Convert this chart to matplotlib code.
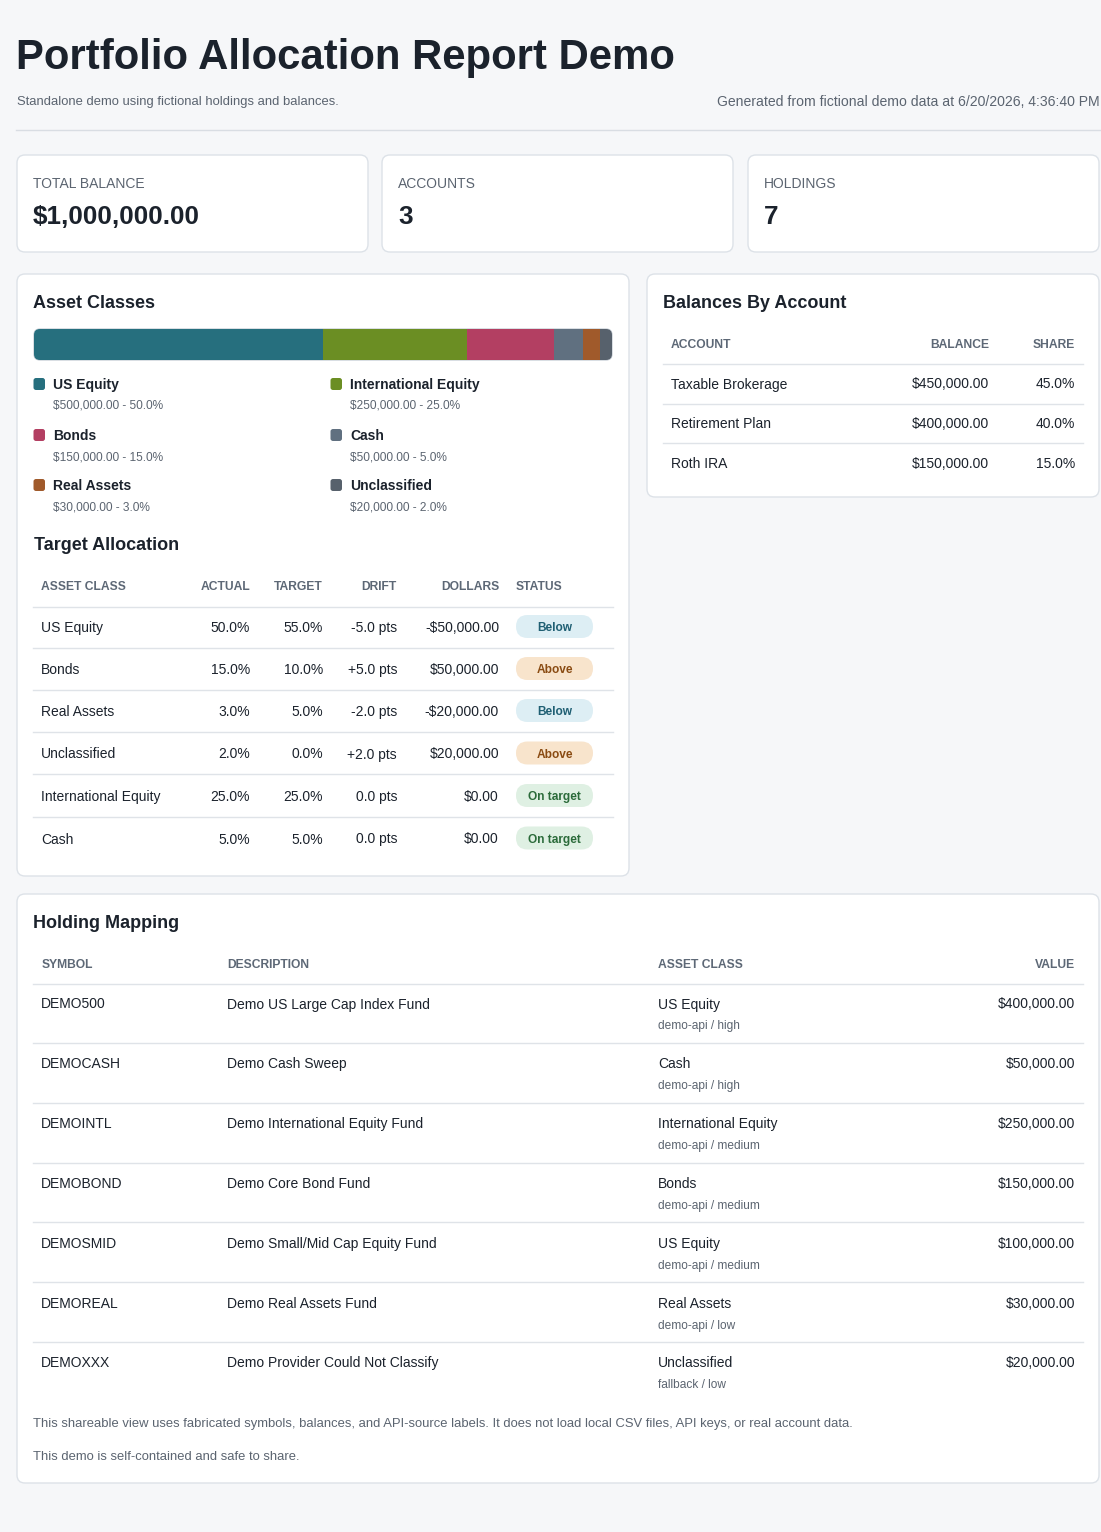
import matplotlib
matplotlib.use("Agg")
import matplotlib.pyplot as plt
from matplotlib.patches import FancyBboxPatch

plt.rcParams["font.family"] = ["Liberation Sans", "DejaVu Sans"]

# Данные отчёта
asset_names = ["US Equity", "International Equity", "Bonds", "Cash", "Real Assets", "Unclassified"]
asset_values = [500000, 250000, 150000, 50000, 30000, 20000]
asset_pcts = [50.0, 25.0, 15.0, 5.0, 3.0, 2.0]
asset_colors = ["#266f7e", "#6b8e23", "#b33f62", "#607080", "#a05a2b", "#57616c"]

target_classes = ["US Equity", "Bonds", "Real Assets", "Unclassified", "International Equity", "Cash"]
actual_pct = [50.0, 15.0, 3.0, 2.0, 25.0, 5.0]
target_pct = [55.0, 10.0, 5.0, 0.0, 25.0, 5.0]
drift_pts = [-5.0, 5.0, -2.0, 2.0, 0.0, 0.0]
drift_dollars = [-50000, 50000, -20000, 20000, 0, 0]
status = ["Below", "Above", "Below", "Above", "On target", "On target"]

account_names = ["Taxable Brokerage", "Retirement Plan", "Roth IRA"]
account_balances = [450000, 400000, 150000]
account_shares = [45.0, 40.0, 15.0]

holding_symbols = ["DEMO500", "DEMOCASH", "DEMOINTL", "DEMOBOND", "DEMOSMID", "DEMOREAL", "DEMOXXX"]
holding_desc = ["Demo US Large Cap Index Fund", "Demo Cash Sweep", "Demo International Equity Fund",
                "Demo Core Bond Fund", "Demo Small/Mid Cap Equity Fund", "Demo Real Assets Fund",
                "Demo Provider Could Not Classify"]
holding_classes = ["US Equity", "Cash", "International Equity", "Bonds", "US Equity", "Real Assets", "Unclassified"]
holding_sources = ["demo-api / high", "demo-api / high", "demo-api / medium", "demo-api / medium",
                   "demo-api / medium", "demo-api / low", "fallback / low"]
holding_values = [400000, 50000, 250000, 150000, 100000, 30000, 20000]

total_balance = 1000000
n_accounts = 3
n_holdings = 7

BG = "#f6f7f9"
BORDER = "#dde2e8"
DARK = "#1b222c"
GRAY = "#5b6470"
HEAD = "#5d6876"
LINE = "#dfe3e8"

badge_style = {
    "Below": ("#ddeef4", "#1f5f73"),
    "Above": ("#f8e4cc", "#8a4b12"),
    "On target": ("#dff0e3", "#2b6b3a"),
}


def money(v):
    s = f"${abs(v):,.2f}"
    return "-" + s if v < 0 else s


def card(ax, x0, y0, x1, y1):
    ax.add_patch(FancyBboxPatch((x0, y0), x1 - x0, y1 - y0,
                                boxstyle="round,pad=0,rounding_size=8",
                                fc="white", ec=BORDER, lw=1.0, zorder=1))


def hline(ax, y, x0, x1, color=LINE):
    ax.plot([x0, x1], [y, y], color=color, lw=1.0, zorder=2)


def txt(ax, x, y, s, size=10, color=DARK, weight="normal", ha="left"):
    # небольшой сдвиг вниз: va="center" учитывает выносные элементы
    ax.text(x, y + 1.5, s, fontsize=size, color=color, fontweight=weight,
            ha=ha, va="center", zorder=3)


W, H = 1101, 1532
fig = plt.figure(figsize=(W / 100, H / 100), dpi=100, facecolor=BG)
ax = fig.add_axes([0, 0, 1, 1])
ax.set_xlim(0, W)
ax.set_ylim(H, 0)
ax.axis("off")

# Заголовок
txt(ax, 16, 56.5, "Portfolio Allocation Report Demo", size=30.2, weight="bold")
txt(ax, 17, 101, "Standalone demo using fictional holdings and balances.", size=9.35, color=GRAY)
txt(ax, 1100, 101, "Generated from fictional demo data at 6/20/2026, 4:36:40 PM", size=10.1,
    color=GRAY, ha="right")
hline(ax, 129.5, 16, 1101, color="#d9dde3")

# Карточки со сводкой
stats = [("TOTAL BALANCE", money(total_balance)), ("ACCOUNTS", str(n_accounts)),
         ("HOLDINGS", str(n_holdings))]
for (label, value), x0 in zip(stats, [17, 382, 748]):
    card(ax, x0, 155, x0 + 351, 252)
    txt(ax, x0 + 16, 183, label, size=10, color=GRAY)
    txt(ax, x0 + 16, 216, value, size=18.8, weight="bold")

# Asset Classes
card(ax, 17, 274, 629, 876)
txt(ax, 33, 302, "Asset Classes", size=13, weight="bold")

bar_x0, bar_y0, bar_w, bar_h = 34, 329, 578, 31
frame = FancyBboxPatch((bar_x0, bar_y0), bar_w, bar_h,
                       boxstyle="round,pad=0,rounding_size=6",
                       fc="none", ec="#c9d0d8", lw=1.0, zorder=4)
ax.add_patch(frame)
bax = fig.add_axes([bar_x0 / W, 1 - (bar_y0 + bar_h) / H, bar_w / W, bar_h / H])
bax.set_xlim(0, sum(asset_values))
bax.set_ylim(0, 1)
bax.axis("off")
bax.patch.set_alpha(0)
left = 0
for v, c in zip(asset_values, asset_colors):
    rect = bax.barh(0.5, v, left=left, height=1.0, color=c, lw=0)[0]
    rect.set_clip_path(frame)
    left += v

for i, (name, v, p, c) in enumerate(zip(asset_names, asset_values, asset_pcts, asset_colors)):
    col, row = i % 2, i // 2
    x = 33 + col * 297
    y = [384, 435, 485][row]
    ax.add_patch(FancyBboxPatch((x + 0.5, y - 6), 11.5, 12,
                                boxstyle="round,pad=0,rounding_size=2.5",
                                fc=c, ec="none", zorder=3))
    txt(ax, x + 20, y, name, size=10, weight="bold")
    txt(ax, x + 20, y + 20.5, f"{money(v)} - {p:.1f}%", size=8.6, color=GRAY)

# Target Allocation
txt(ax, 34, 544, "Target Allocation", size=13, weight="bold")
ty = 586
txt(ax, 41, ty, "ASSET CLASS", size=8.7, color=HEAD, weight="bold")
txt(ax, 250, ty, "ACTUAL", size=8.7, color=HEAD, weight="bold", ha="right")
txt(ax, 323, ty, "TARGET", size=8.7, color=HEAD, weight="bold", ha="right")
txt(ax, 397, ty, "DRIFT", size=8.7, color=HEAD, weight="bold", ha="right")
txt(ax, 499, ty, "DOLLARS", size=8.7, color=HEAD, weight="bold", ha="right")
txt(ax, 516, ty, "STATUS", size=8.7, color=HEAD, weight="bold")
hline(ax, 606.5, 33, 613)
row_ys = [626.5, 668.5, 710.5, 753, 795.5, 838]
for i, y in enumerate(row_ys):
    txt(ax, 41, y, target_classes[i])
    txt(ax, 250, y, f"{actual_pct[i]:.1f}%", ha="right")
    txt(ax, 323, y, f"{target_pct[i]:.1f}%", ha="right")
    d = drift_pts[i]
    txt(ax, 397, y, (f"+{d:.1f}" if d > 0 else f"{d:.1f}") + " pts", ha="right")
    txt(ax, 499, y, money(drift_dollars[i]), ha="right")
    bg, fg = badge_style[status[i]]
    ax.add_patch(FancyBboxPatch((516, y - 11.5), 77, 23,
                                boxstyle="round,pad=0,rounding_size=11.5",
                                fc=bg, ec="none", zorder=2))
    txt(ax, 554.5, y, status[i], size=8.6, color=fg, weight="bold", ha="center")
    if i < len(row_ys) - 1:
        hline(ax, (y + row_ys[i + 1]) / 2, 33, 613)

# Balances By Account
card(ax, 647, 274, 1099, 497)
txt(ax, 663, 302, "Balances By Account", size=13, weight="bold")
txt(ax, 671, 344, "ACCOUNT", size=8.7, color=HEAD, weight="bold")
txt(ax, 989, 344, "BALANCE", size=8.7, color=HEAD, weight="bold", ha="right")
txt(ax, 1075, 344, "SHARE", size=8.7, color=HEAD, weight="bold", ha="right")
hline(ax, 363.5, 663, 1083)
acc_ys = [383, 423, 462]
for i, y in enumerate(acc_ys):
    txt(ax, 671, y, account_names[i])
    txt(ax, 989, y, money(account_balances[i]), ha="right")
    txt(ax, 1075, y, f"{account_shares[i]:.1f}%", ha="right")
    if i < len(acc_ys) - 1:
        hline(ax, (y + acc_ys[i + 1]) / 2 + 0.5, 663, 1083)

# Holding Mapping
card(ax, 17, 894, 1099, 1483)
txt(ax, 33, 922, "Holding Mapping", size=13, weight="bold")
hy = 964
txt(ax, 42, hy, "SYMBOL", size=8.7, color=HEAD, weight="bold")
txt(ax, 227, hy, "DESCRIPTION", size=8.7, color=HEAD, weight="bold")
txt(ax, 658, hy, "ASSET CLASS", size=8.7, color=HEAD, weight="bold")
txt(ax, 1075, hy, "VALUE", size=8.7, color=HEAD, weight="bold", ha="right")
hline(ax, 983.5, 33, 1083)
for i in range(len(holding_symbols)):
    y = 1003 + i * 59.8
    txt(ax, 41, y, holding_symbols[i])
    txt(ax, 227, y, holding_desc[i])
    txt(ax, 658, y, holding_classes[i])
    txt(ax, 658, y + 22, holding_sources[i], size=8.6, color=GRAY)
    txt(ax, 1075, y, money(holding_values[i]), ha="right")
    if i < len(holding_symbols) - 1:
        hline(ax, y + 40, 33, 1083)

txt(ax, 33, 1423, "This shareable view uses fabricated symbols, balances, and API-source labels. "
    "It does not load local CSV files, API keys, or real account data.", size=9.4, color=GRAY)
txt(ax, 33, 1456, "This demo is self-contained and safe to share.", size=9.4, color=GRAY)

fig.savefig("out.png", dpi=100, facecolor=BG)
